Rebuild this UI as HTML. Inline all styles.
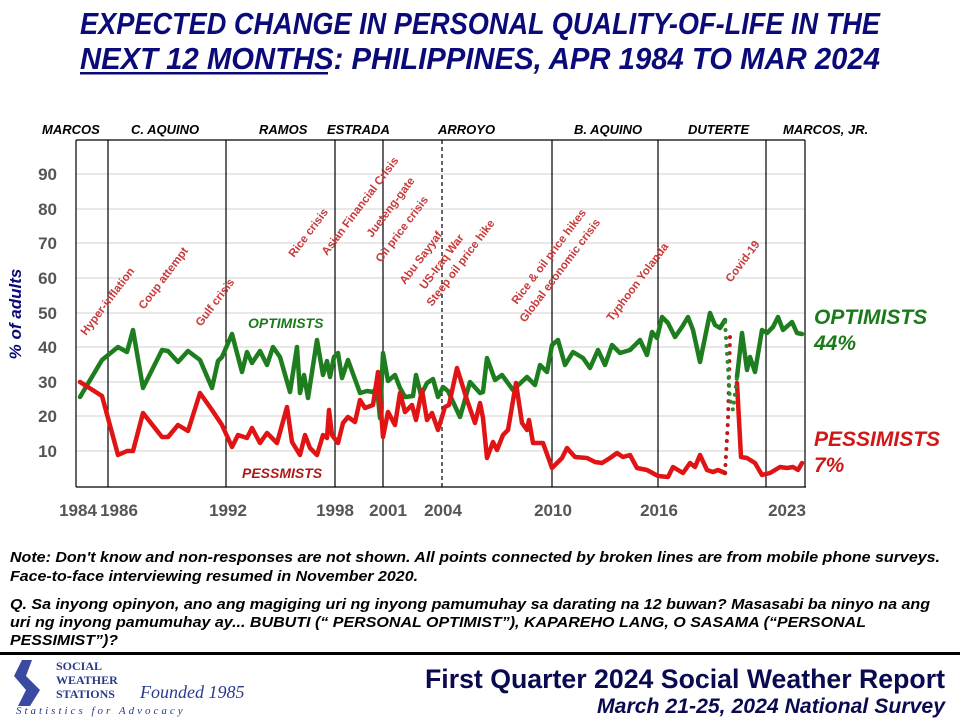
<!DOCTYPE html>
<html><head><meta charset="utf-8"><style>
html,body{margin:0;padding:0;background:#fff;}
svg{display:block;font-family:"Liberation Sans",Arial,sans-serif;}
</style></head><body>
<svg width="960" height="720" viewBox="0 0 960 720" xmlns="http://www.w3.org/2000/svg">
<rect width="960" height="720" fill="#fff"/>
<g fill="#0a0a78" font-weight="bold" font-style="italic" font-size="31">
<text x="80" y="34" textLength="800" lengthAdjust="spacingAndGlyphs">EXPECTED CHANGE IN PERSONAL QUALITY-OF-LIFE IN THE</text>
<text x="80" y="69" textLength="800" lengthAdjust="spacingAndGlyphs">NEXT 12 MONTHS: PHILIPPINES, APR 1984 TO MAR 2024</text>
</g>
<rect x="80" y="72" width="248" height="2.5" fill="#0a0a78"/>
<g font-weight="bold" font-style="italic" font-size="13" fill="#000">
<text x="42" y="134">MARCOS</text><text x="131" y="134">C. AQUINO</text>
<text x="259" y="134">RAMOS</text><text x="327" y="134">ESTRADA</text>
<text x="438" y="134">ARROYO</text><text x="574" y="134">B. AQUINO</text>
<text x="688" y="134">DUTERTE</text><text x="783" y="134">MARCOS, JR.</text>
</g>
<g stroke="#d0d0d0" stroke-width="1">
<line x1="76" x2="805" y1="174" y2="174"/><line x1="76" x2="805" y1="209" y2="209"/>
<line x1="76" x2="805" y1="243" y2="243"/><line x1="76" x2="805" y1="278" y2="278"/>
<line x1="76" x2="805" y1="313" y2="313"/><line x1="76" x2="805" y1="347" y2="347"/>
<line x1="76" x2="805" y1="382" y2="382"/><line x1="76" x2="805" y1="416" y2="416"/>
<line x1="76" x2="805" y1="451" y2="451"/>
</g>
<g stroke="#000" stroke-width="1.2">
<line x1="76" y1="140" x2="76" y2="487"/>
<line x1="76" y1="487" x2="806" y2="487"/>
<line x1="805" y1="140" x2="805" y2="487"/>
<line x1="76" y1="140" x2="805" y2="140"/>
<line x1="108" y1="140" x2="108" y2="487"/>
<line x1="226" y1="140" x2="226" y2="487"/>
<line x1="335" y1="140" x2="335" y2="487"/>
<line x1="383" y1="140" x2="383" y2="487"/>
<line x1="442" y1="140" x2="442" y2="487" stroke-dasharray="4,3"/>
<line x1="552" y1="140" x2="552" y2="487"/>
<line x1="658" y1="140" x2="658" y2="487"/>
<line x1="766" y1="140" x2="766" y2="487"/>
</g>
<g font-weight="bold" font-size="17" fill="#555" text-anchor="end">
<text x="57" y="180">90</text><text x="57" y="215">80</text><text x="57" y="249">70</text>
<text x="57" y="284">60</text><text x="57" y="319">50</text><text x="57" y="353">40</text>
<text x="57" y="388">30</text><text x="57" y="422">20</text><text x="57" y="457">10</text>
</g>
<text transform="translate(21,314) rotate(-90)" text-anchor="middle" font-weight="bold" font-style="italic" font-size="17" fill="#0a0a78">% of adults</text>
<g font-weight="bold" font-size="17" fill="#555" text-anchor="middle">
<text x="78" y="516">1984</text><text x="119" y="516">1986</text><text x="228" y="516">1992</text>
<text x="335" y="516">1998</text><text x="388" y="516">2001</text><text x="443" y="516">2004</text>
<text x="553" y="516">2010</text><text x="659" y="516">2016</text><text x="787" y="516">2023</text>
</g>
<g font-weight="bold" font-size="11.5" fill="#c83a3a">
<text transform="translate(86,336) rotate(-53)">Hyper-inflation</text>
<text transform="translate(144,310) rotate(-53)">Coup attempt</text>
<text transform="translate(201,327) rotate(-53)">Gulf crisis</text>
<text transform="translate(294,258) rotate(-53)">Rice crisis</text>
<text transform="translate(327,256) rotate(-53)">Asian Financial Crisis</text>
<text transform="translate(372,238) rotate(-53)">Jueteng-gate</text>
<text transform="translate(381,263) rotate(-53)">Oil price crisis</text>
<text transform="translate(405,285) rotate(-53)">Abu Sayyaf</text>
<text transform="translate(425,290) rotate(-53)">US-Iraq War</text>
<text transform="translate(432,307) rotate(-53)">Steep oil price hike</text>
<text transform="translate(517,305) rotate(-53)">Rice &amp; oil price hikes</text>
<text transform="translate(525,323) rotate(-53)">Global economic crisis</text>
<text transform="translate(612,322) rotate(-53)">Typhoon Yolanda</text>
<text transform="translate(731,283) rotate(-53)">Covid-19</text>
</g>
<text x="248" y="328" font-weight="bold" font-style="italic" font-size="14" fill="#1a7a1a">OPTIMISTS</text>
<text x="242" y="478" font-weight="bold" font-style="italic" font-size="14" fill="#b01818">PESSMISTS</text>
<g fill="none" stroke-width="4.5" stroke-linejoin="round" stroke-linecap="round">
<polyline stroke="#1e7d1e" points="80,397 102,360 118,347 127,352 133,330 143,388 162,350 168,351 178,362 188,351 200,360 212,388 218,361 222,357 232,334 242,372 247,352 252,363 260,351 267,365 273,347 280,357 290,392 297,347 300,393 304,375 308,398 317,340 323,375 327,361 330,377 334,357 338,353 342,378 348,360 360,393 367,391 373,392 377,387 380,418 383,353 388,381 395,375 400,388 405,397 413,396 416,375 421,395 427,383 433,379 438,397 443,387 448,391 460,417 470,382 480,393 483,392 487,358 495,380 502,375 513,390 527,377 535,385 540,365 547,372 552,345 558,340 565,365 573,352 583,358 590,368 598,350 605,365 612,345 620,353 630,350 640,340 647,355 652,332 657,338 662,317 668,323 675,337 682,327 688,317 693,330 700,362 710,313 715,325 720,328 725,320"/>
<polyline stroke="#1e7d1e" points="737,377 742,333 747,370 750,357 755,372 762,330 767,333 773,327 778,317 783,330 792,322 797,333 802,334"/>
<polyline stroke="#e01414" points="80,382 102,396 118,455 127,451 133,451 143,413 162,437 168,437 178,425 188,431 200,393 212,410 222,425 232,447 238,435 247,438 252,428 260,443 267,433 277,443 287,407 292,442 300,455 305,435 310,448 317,455 323,435 327,438 329,410 332,435 338,443 343,423 348,417 355,422 360,400 365,408 373,405 378,372 383,437 388,412 395,425 400,393 405,412 412,405 416,420 422,390 427,420 432,413 438,430 445,407 449,405 457,368 467,400 475,423 480,403 483,418 487,458 493,442 497,450 503,435 508,430 516,383 522,423 527,430 529,420 533,443 543,443 552,468 562,458 567,448 575,457 587,458 595,462 602,463 610,458 617,453 623,457 630,455 637,468 647,470 658,476 668,477 673,467 683,473 690,463 695,467 700,455 707,470 713,472 718,470 725,473"/>
<polyline stroke="#e01414" points="737,383 741,457 747,458 755,463 762,475 770,473 780,467 787,468 793,467 798,470 802,463"/>
</g>
<g fill="none" stroke-width="4" stroke-linecap="round" stroke-dasharray="0,8">
<polyline stroke="#c01818" points="725,473 728,420 730,337 735,340"/>
<polyline stroke="#2a8a2a" points="725,322 730,400 733,410 737,377"/>
</g>
<g font-weight="bold" font-style="italic" font-size="21">
<text x="814" y="324" fill="#1a7a1a">OPTIMISTS</text><text x="814" y="350" fill="#1a7a1a">44%</text>
<text x="814" y="446" fill="#d01818">PESSIMISTS</text><text x="814" y="472" fill="#d01818">7%</text>
</g>
<g font-weight="bold" font-style="italic" font-size="15" fill="#000">
<text x="10" y="562" textLength="930" lengthAdjust="spacingAndGlyphs">Note: Don't know and non-responses are not shown. All points connected by broken lines are from mobile phone surveys.</text>
<text x="10" y="581" textLength="408" lengthAdjust="spacingAndGlyphs">Face-to-face interviewing resumed in November 2020.</text>
<text x="10" y="609" textLength="920" lengthAdjust="spacingAndGlyphs">Q. Sa inyong opinyon, ano ang magiging  uri ng inyong pamumuhay sa darating  na 12 buwan? Masasabi ba ninyo na ang</text>
<text x="10" y="627" textLength="856" lengthAdjust="spacingAndGlyphs">uri ng inyong pamumuhay ay... BUBUTI (“ PERSONAL OPTIMIST”), KAPAREHO LANG, O SASAMA (“PERSONAL</text>
<text x="10" y="645" textLength="108" lengthAdjust="spacingAndGlyphs">PESSIMIST”)?</text>
</g>
<rect x="0" y="652" width="960" height="3" fill="#000"/>
<path d="M22,660 L32,660 L26,676 L40,690 L30,706 L18,706 L26,690 L14,676 Z" fill="#3a4aa0"/>
<g font-family="'Liberation Serif',serif" font-weight="bold" fill="#2a3a8a" font-size="12">
<text x="56" y="670">SOCIAL</text><text x="56" y="684">WEATHER</text><text x="56" y="698">STATIONS</text>
</g>
<text x="140" y="698" font-family="'Liberation Serif',serif" font-style="italic" font-size="18" fill="#2a3a8a">Founded 1985</text>
<text x="16" y="714" font-family="'Liberation Serif',serif" font-style="italic" font-size="11" fill="#2a3a8a" letter-spacing="3">Statistics for Advocacy</text>
<g fill="#0a0a50" font-weight="bold">
<text x="945" y="688" font-size="27" text-anchor="end" textLength="520" lengthAdjust="spacingAndGlyphs">First Quarter 2024 Social Weather Report</text>
<text x="945" y="713" font-size="21" font-style="italic" text-anchor="end" textLength="348" lengthAdjust="spacingAndGlyphs">March 21-25, 2024 National Survey</text>
</g>
</svg>
</body></html>
